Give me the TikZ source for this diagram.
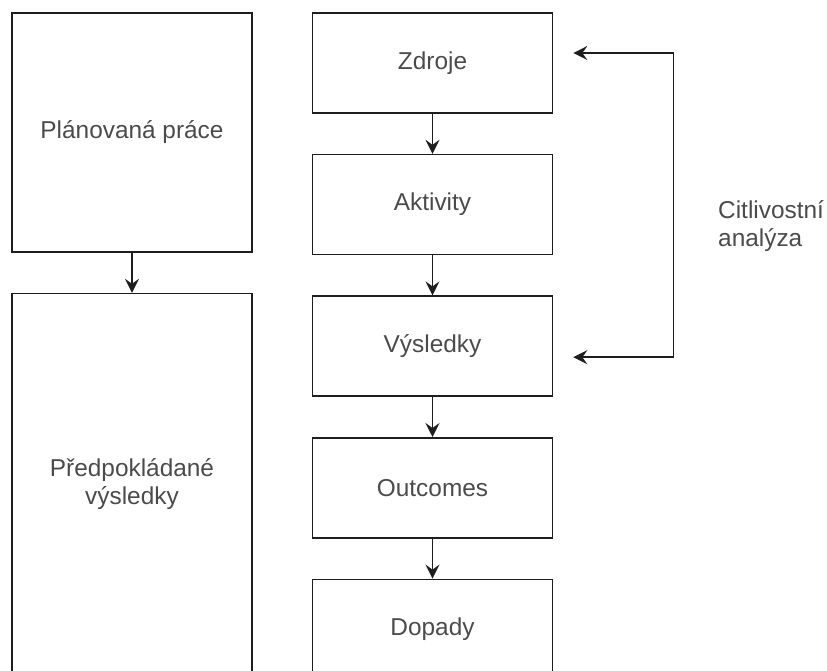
\documentclass[tikz,border=0pt]{standalone}
\usepackage{fontspec}
\setmainfont{Liberation Sans}
\usetikzlibrary{arrows.meta,positioning}
\definecolor{ink}{RGB}{30,30,30}
\definecolor{txt}{RGB}{75,75,75}

\begin{document}
\begin{tikzpicture}[x=1pt,y=-1pt,
  every node/.style={font=\fontsize{24.4}{28}\selectfont,text=txt,inner sep=0pt},
  >={Stealth[length=14pt,width=14pt,inset=5pt]},
  box/.style={draw=ink,line width=1.6pt,minimum width=240pt,align=center},
  arr/.style={->,draw=ink,line width=1.6pt}]
\useasboundingbox (0,0) rectangle (827,671);
% levy sloupec
\node[box,minimum height=239pt] (plan) at (132,132.5) {Plánovaná práce};
\node[box,minimum height=380pt,below=40pt of plan] (predp) {Předpokládané\\výsledky};
% pravy sloupec
\node[box,minimum height=100pt] (zdroje) at (432.5,63) {Zdroje};
\node[box,minimum height=100pt,below=40pt of zdroje] (aktivity) {Aktivity};
\node[box,minimum height=100pt,below=40pt of aktivity] (vysledky) {Výsledky};
\node[box,minimum height=100pt,below=40pt of vysledky] (outcomes) {Outcomes};
\node[box,minimum height=100pt,below=40pt of outcomes] (dopady) {Dopady};
\draw[arr] (plan) -- (predp);
\draw[arr] (zdroje) -- (aktivity);
\draw[arr] (aktivity) -- (vysledky);
\draw[arr] (vysledky) -- (outcomes);
\draw[arr] (outcomes) -- (dopady);
% citlivostni analyza
\coordinate (fbtop) at ([xshift=20pt,yshift=10pt]zdroje.east);
\coordinate (fbbot) at ([xshift=20pt,yshift=-11pt]vysledky.east);
\draw[arr,<->] (fbtop) -- ++(100,0) |- (fbbot);
\node[align=left,anchor=west] (citl) at (718,226) {Citlivostní\\analýza};
\end{tikzpicture}
\end{document}
